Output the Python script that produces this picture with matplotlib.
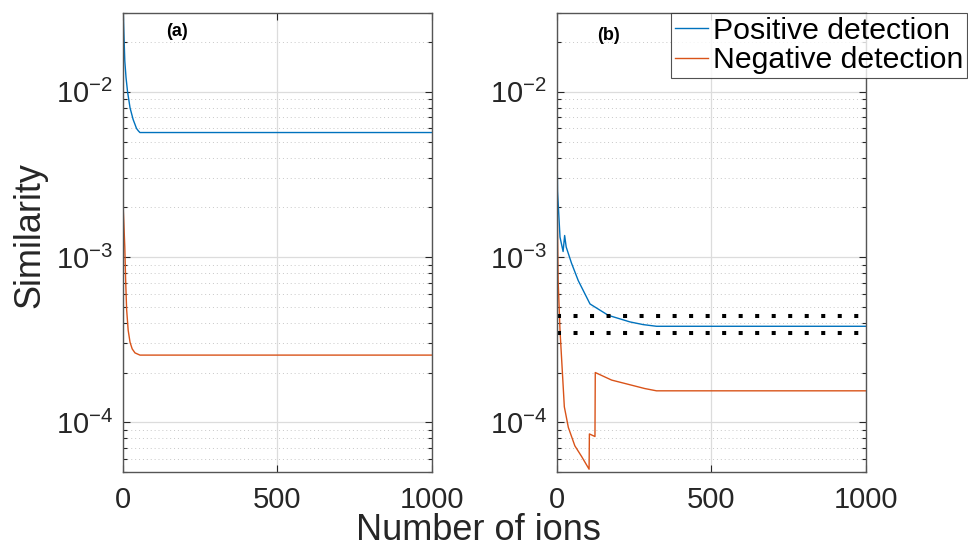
import numpy as np
import matplotlib
import matplotlib.pyplot as plt
from matplotlib.ticker import LogLocator, NullFormatter, FixedLocator

matplotlib.rcParams['font.family'] = ['Liberation Sans', 'DejaVu Sans']
matplotlib.rcParams['mathtext.fontset'] = 'custom'
matplotlib.rcParams['mathtext.rm'] = 'Liberation Sans'
matplotlib.rcParams['axes.unicode_minus'] = False

# panel (a)
a_pos_x = [0, 3, 6, 10, 15, 23, 33, 44, 50, 55, 1000]
a_pos_y = [0.035, 0.023, 0.0154, 0.0122, 0.0100, 0.0080, 0.0068, 0.0060, 0.0058, 0.00567, 0.00567]
a_neg_x = [0, 3, 6, 9, 12, 17, 23, 30, 39, 55, 1000]
a_neg_y = [2.15e-3, 1.6e-3, 1.15e-3, 7.0e-4, 4.8e-4, 3.6e-4, 3.05e-4, 2.78e-4, 2.63e-4, 2.55e-4, 2.55e-4]

# panel (b)
b_pos_x = [0, 3, 11, 21, 26, 31, 48, 70, 108, 167, 237, 280, 323, 1000]
b_pos_y = [9e-3, 2.5e-3, 1.32e-3, 1.08e-3, 1.35e-3, 1.15e-3, 9.2e-4, 7.2e-4,
           5.2e-4, 4.44e-4, 4.05e-4, 3.9e-4, 3.81e-4, 3.81e-4]
b_neg_x = [0, 5, 11, 25, 38, 59, 81, 105, 106, 124, 125, 178, 230, 285, 323, 1000]
b_neg_y = [4.0e-3, 7.2e-4, 3.6e-4, 1.24e-4, 9.3e-5, 7.2e-5, 6.2e-5, 5.2e-5,
           8.5e-5, 8.2e-5, 2.0e-4, 1.8e-4, 1.7e-4, 1.6e-4, 1.55e-4, 1.55e-4]
thresholds = [4.38e-4, 3.49e-4]

blue = '#0072BD'
orange = '#D95319'
axcol = '#262626'

fig = plt.figure(figsize=(9.68, 5.5), dpi=100)
ax1 = fig.add_axes([0.127, 0.1418, 0.319, 0.8346])
ax2 = fig.add_axes([0.575, 0.1418, 0.3196, 0.8346])


def style(ax):
    ax.set_yscale('log')
    ax.set_xlim(0, 1000)
    ax.set_ylim(5e-5, 3e-2)
    ax.xaxis.set_major_locator(FixedLocator([0, 500, 1000]))
    ax.yaxis.set_major_locator(LogLocator(base=10, numticks=10))
    ax.yaxis.set_minor_locator(LogLocator(base=10, subs=np.arange(2, 10), numticks=20))
    ax.yaxis.set_minor_formatter(NullFormatter())
    ax.tick_params(which='both', direction='in', top=True, right=True,
                   colors=axcol, width=0.8)
    ax.tick_params(which='major', length=5, labelsize=21, pad=7)
    ax.tick_params(axis='x', which='major', pad=10)
    ax.tick_params(which='minor', length=3)
    ax.grid(True, which='major', color='#dcdcdc', lw=0.9, ls='-')
    ax.grid(True, which='minor', axis='y', color='#c8c8c8', lw=0.7, ls=(0, (1, 3)))
    ax.set_axisbelow(True)
    for s in ax.spines.values():
        s.set_color('#555555')
        s.set_linewidth(1.0)


style(ax1)
style(ax2)

ax1.plot(a_pos_x, a_pos_y, color=blue, lw=1.0)
ax1.plot(a_neg_x, a_neg_y, color=orange, lw=1.0)
ax1.text(0.175, 0.959, '(a)', transform=ax1.transAxes, fontsize=13,
         fontweight='bold', ha='center', va='center')

l1, = ax2.plot(b_pos_x, b_pos_y, color=blue, lw=1.0)
l2, = ax2.plot(b_neg_x, b_neg_y, color=orange, lw=1.0)
for t in thresholds:
    ax2.plot([0, 1000], [t, t], color='black', lw=2.9, ls=(0, (1, 3.1)),
             dash_capstyle='butt')
ax2.text(0.169, 0.952, '(b)', transform=ax2.transAxes, fontsize=13,
         fontweight='bold', ha='center', va='center')

leg = fig.legend([l1, l2], ['Positive detection', 'Negative detection'],
                 loc='upper right', bbox_to_anchor=(0.9987, 0.9764),
                 bbox_transform=fig.transFigure, fontsize=21.8, frameon=True,
                 fancybox=False, borderpad=0.12, labelspacing=0.05,
                 handlelength=1.1, handletextpad=0.15, borderaxespad=0)
leg.get_frame().set_edgecolor('#262626')
leg.get_frame().set_linewidth(0.8)

fig.text(30 / 968, 1 - 235 / 550, 'Similarity', rotation=90, fontsize=26,
         ha='center', va='center', color=axcol)
fig.text(478 / 968, 1 - 530 / 550, 'Number of ions', fontsize=26,
         ha='center', va='center', color=axcol)

fig.savefig('out.png', dpi=100)
